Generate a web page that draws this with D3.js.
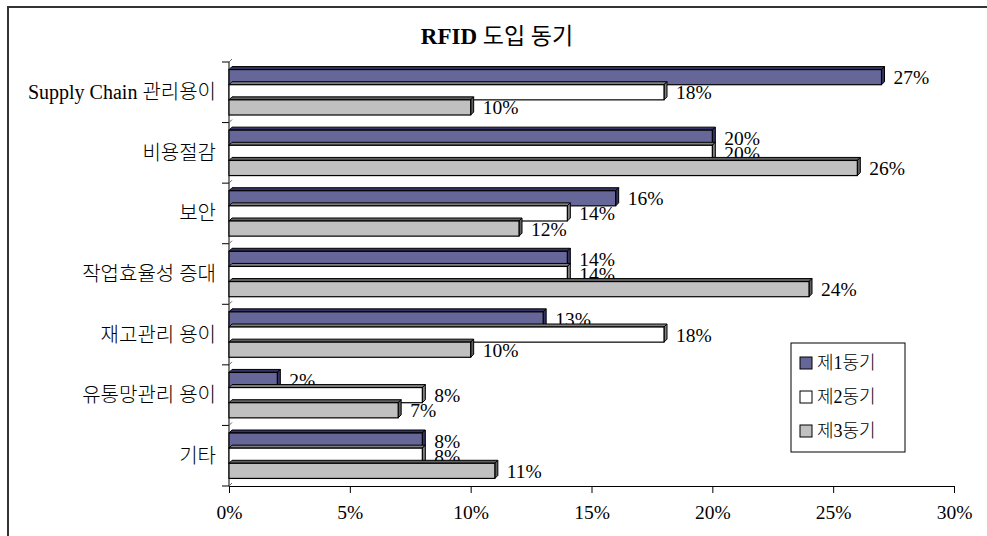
<!DOCTYPE html>
<html>
<head>
<meta charset="utf-8">
<script src="https://cdn.jsdelivr.net/npm/d3@7"></script>
<style>
  body { margin: 0; background: #fff; }
  text { font-family: "Liberation Serif", "Noto Sans CJK KR", serif; fill: #000; font-weight: 300; }
</style>
</head>
<body>
<div class="chart"></div>
<script>
// categories and values (percent)
const categories = ['Supply Chain 관리용이', '비용절감', '보안', '작업효율성 증대', '재고관리 용이', '유통망관리 용이', '기타']
const seriesNames = ['제1동기', '제2동기', '제3동기']
const motive1 = [27, 20, 16, 14, 13, 2, 8]
const motive2 = [18, 20, 14, 14, 18, 8, 8]
const motive3 = [10, 26, 12, 24, 10, 7, 11]
const xTicks = [0, 5, 10, 15, 20, 25, 30]

const colors = ['#666699', '#ffffff', '#c0c0c0']
const sideColors = ['#333366', '#808080', '#606060']

var width = 987, height = 536
var margin = {top: 62, right: 33, bottom: 50, left: 229}
var fs = '19.5px'

var svg = d3.select('.chart').append('svg')
  .attr('width', width)
  .attr('height', height)

// frame (cropped in the original: only top and left edges show)
svg.append('path')
  .attr('d', 'M8,536 L8,7 L987,7')
  .attr('fill', 'none')
  .attr('stroke', '#333')
  .attr('stroke-width', 2)

var title = svg.append('text')
  .attr('x', 497).attr('y', 44)
  .attr('text-anchor', 'middle')
  .style('font-size', '23px')
title.append('tspan').style('font-weight', 'bold').text('RFID ')
title.append('tspan').style('font-weight', '400').text('도입 동기')

var x = d3.scaleLinear().domain([0, 30]).range([margin.left, width - margin.right])
var y = d3.scaleBand().domain(categories).range([margin.top, height - margin.bottom])
  .paddingInner(0.25).paddingOuter(0.125)
var ySub = d3.scaleBand().domain([0, 1, 2]).range([0, y.bandwidth()])

// axes
svg.append('line')
  .attr('x1', x(0)).attr('x2', x(0))
  .attr('y1', margin.top).attr('y2', height - margin.bottom)
  .attr('stroke', '#000')
var step = y.step()
for (let i = 0; i <= categories.length; i++) {
  let yy = margin.top + i * step
  svg.append('line').attr('x1', x(0) - 7).attr('x2', x(0)).attr('y1', yy).attr('y2', yy).attr('stroke', '#000')
  svg.append('line').attr('x1', x(0)).attr('x2', x(0) + 3).attr('y1', yy).attr('y2', yy - 3).attr('stroke', '#666')
}

var xAxis = svg.append('g')
  .attr('transform', 'translate(0,' + (height - margin.bottom) + ')')
  .call(d3.axisBottom(x).tickValues(xTicks).tickSize(7).tickFormat(d => d + '%'))
xAxis.select('.domain').attr('stroke', '#000')
xAxis.selectAll('text').attr('dy', '1.2em').style('font-size', fs).style('font-family', '"Liberation Serif", serif')

svg.append('g').selectAll('text')
  .data(categories)
  .enter().append('text')
  .attr('x', x(0) - 13)
  .attr('y', d => y(d) + y.bandwidth() / 2)
  .attr('dy', '0.35em')
  .attr('text-anchor', 'end')
  .style('font-size', '20px')
  .text(d => d)

// bars with a small 3D depth
var depth = 3
var rows = []
categories.forEach((c, i) => {
  [motive1, motive2, motive3].forEach((s, k) => {
    rows.push({cat: c, k: k, value: s[i]})
  })
})

var bars = svg.append('g').selectAll('g')
  .data(rows)
  .enter().append('g')

bars.each(function(d) {
  var g = d3.select(this)
  var x0 = x(0), x1 = x(d.value)
  var y0 = y(d.cat) + ySub(d.k), y1 = y0 + ySub.bandwidth()
  g.append('polygon')
    .attr('points', [[x0, y0], [x0 + depth, y0 - depth], [x1 + depth, y0 - depth], [x1, y0]].join(' '))
    .attr('fill', sideColors[d.k]).attr('stroke', '#000').attr('stroke-width', 1)
  g.append('polygon')
    .attr('points', [[x1, y0], [x1 + depth, y0 - depth], [x1 + depth, y1 - depth], [x1, y1]].join(' '))
    .attr('fill', sideColors[d.k]).attr('stroke', '#000').attr('stroke-width', 1)
  g.append('rect')
    .attr('x', x0).attr('y', y0)
    .attr('width', x1 - x0).attr('height', y1 - y0)
    .attr('fill', colors[d.k]).attr('stroke', '#000').attr('stroke-width', 1.2)
})

bars.append('text')
  .attr('x', d => x(d.value) + depth + 9)
  .attr('y', d => y(d.cat) + ySub(d.k) + ySub.bandwidth() / 2)
  .attr('dy', '0.36em')
  .style('font-size', fs)
  .text(d => d.value + '%')

// legend
var legend = svg.append('g').attr('transform', 'translate(791,343)')
legend.append('rect')
  .attr('width', 114).attr('height', 109)
  .attr('fill', '#fff').attr('stroke', '#000')
var items = legend.selectAll('.legend')
  .data(seriesNames)
  .enter().append('g')
  .attr('class', 'legend')
  .attr('transform', (d, i) => 'translate(9,' + (20 + i * 34) + ')')
items.append('rect')
  .attr('x', 0).attr('y', -6)
  .attr('width', 12).attr('height', 12)
  .attr('fill', (d, i) => colors[i]).attr('stroke', '#000')
items.append('text')
  .attr('x', 17).attr('dy', '0.35em')
  .style('font-size', '18px')
  .text(d => d)
</script>
</body>
</html>
